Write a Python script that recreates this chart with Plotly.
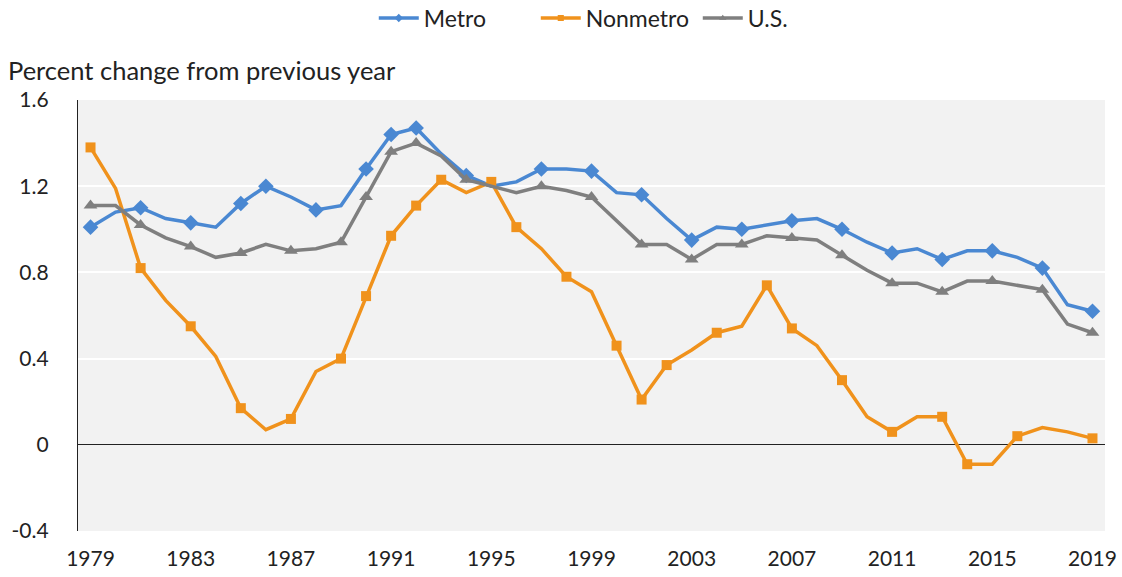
import plotly.graph_objects as go

years = list(range(1979, 2020))

metro = [1.01, 1.08, 1.10, 1.05, 1.03, 1.01, 1.12, 1.20, 1.15, 1.09,
         1.11, 1.28, 1.44, 1.47, 1.35, 1.25, 1.20, 1.22, 1.28, 1.28,
         1.27, 1.17, 1.16, 1.05, 0.95, 1.01, 1.00, 1.02, 1.04, 1.05,
         1.00, 0.94, 0.89, 0.91, 0.86, 0.90, 0.90, 0.87, 0.82, 0.65,
         0.62]

nonmetro = [1.38, 1.19, 0.82, 0.67, 0.55, 0.41, 0.17, 0.07, 0.12, 0.34,
            0.40, 0.69, 0.97, 1.11, 1.23, 1.17, 1.22, 1.01, 0.91, 0.78,
            0.71, 0.46, 0.21, 0.37, 0.44, 0.52, 0.55, 0.74, 0.54, 0.46,
            0.30, 0.13, 0.06, 0.13, 0.13, -0.09, -0.09, 0.04, 0.08, 0.06,
            0.03]

us = [1.11, 1.11, 1.02, 0.96, 0.92, 0.87, 0.89, 0.93, 0.90, 0.91,
      0.94, 1.15, 1.36, 1.40, 1.34, 1.23, 1.20, 1.17, 1.20, 1.18,
      1.15, 1.04, 0.93, 0.93, 0.86, 0.93, 0.93, 0.97, 0.96, 0.95,
      0.88, 0.81, 0.75, 0.75, 0.71, 0.76, 0.76, 0.74, 0.72, 0.56,
      0.52]

# years where the original chart shows a marker
metro_marks = [1979, 1981, 1983, 1985, 1986, 1988, 1990, 1991, 1992, 1994,
               1997, 1999, 2001, 2003, 2005, 2007, 2009, 2011, 2013, 2015,
               2017, 2019]
nonmetro_marks = [1979, 1981, 1983, 1985, 1987, 1989, 1990, 1991, 1992, 1993,
                  1995, 1996, 1998, 2000, 2001, 2002, 2004, 2006, 2007, 2009,
                  2011, 2013, 2014, 2016, 2019]
us_marks = [1979, 1981, 1983, 1985, 1987, 1989, 1990, 1991, 1992, 1994,
            1997, 1999, 2001, 2003, 2005, 2007, 2009, 2011, 2013, 2015,
            2017, 2019]

series = [
    ("Metro", metro, metro_marks, "#4a88d2", "diamond", 12),
    ("Nonmetro", nonmetro, nonmetro_marks, "#f0921c", "square", 10),
    ("U.S.", us, us_marks, "#7f7f7f", "triangle-up", 12),
]

fig = go.Figure()
for name, vals, marks, color, symbol, size in series:
    sizes = [size if yr in marks else 0 for yr in years]
    fig.add_trace(go.Scatter(
        x=years, y=vals, name=name, mode="lines+markers",
        line=dict(color=color, width=3.5),
        marker=dict(symbol=symbol, size=sizes, color=color, opacity=1,
                    line=dict(width=0)),
    ))

fig.add_annotation(
    text="Percent change from previous year", xref="paper", yref="paper",
    x=-0.07, y=1.07, xanchor="left", yanchor="middle", showarrow=False,
    font=dict(size=25.5, color="#222"),
)

fig.update_layout(
    width=1122, height=577,
    margin=dict(l=78, r=17, t=100, b=46, autoexpand=False),
    paper_bgcolor="white",
    plot_bgcolor="#f2f2f2",
    font=dict(family="Lato, Liberation Sans, sans-serif", size=21, color="#222"),
    showlegend=True,
    legend=dict(orientation="h", x=0.288, xanchor="left", y=1.19, yanchor="middle",
                font=dict(size=23), itemwidth=40, entrywidth=107,
                bgcolor="rgba(0,0,0,0)"),
    xaxis=dict(range=[1978.5, 2019.5], tickmode="array",
               tickvals=list(range(1979, 2020, 4)), showgrid=False,
               zeroline=False, showline=False, ticks="", ticklabelstandoff=13),
    yaxis=dict(range=[-0.4, 1.6], tickmode="array",
               tickvals=[-0.4, 0, 0.4, 0.8, 1.2, 1.6],
               ticktext=["-0.4", "0", "0.4", "0.8", "1.2", "1.6"],
               showgrid=True, gridcolor="white", gridwidth=1.5,
               zeroline=True, zerolinecolor="#222", zerolinewidth=1.2,
               showline=True, linecolor="#222", linewidth=1.2,
               ticks="", ticklabelstandoff=24),
)

fig.write_html(
    "out.html",
    config={"displayModeBar": False},
    post_script="document.body.style.margin='0';document.body.style.overflow='hidden';",
)
